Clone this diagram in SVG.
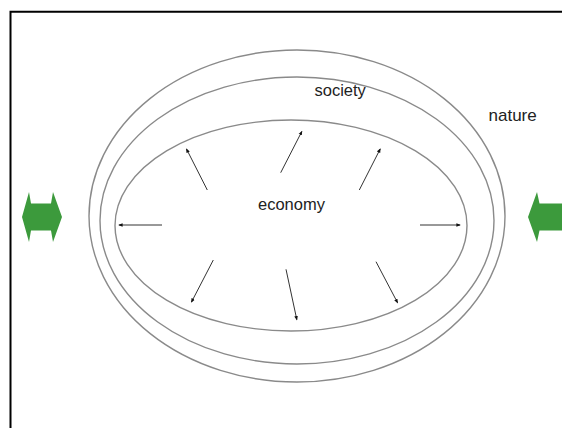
<svg xmlns="http://www.w3.org/2000/svg" width="562" height="428" viewBox="0 0 562 428">
<style>
.ring{fill:none;stroke:#8a8a8a;stroke-width:1.4}
.ar{stroke:#333;stroke-width:1;fill:none;marker-end:url(#ah)}
.lbl{font-family:"Liberation Sans",Arial,sans-serif;font-size:16.5px;fill:#222}
.green{fill:#3c9a3c}
</style>
<defs>
<marker id="ah" viewBox="0 0 10 10" refX="8" refY="5" markerWidth="4.5" markerHeight="4.5" orient="auto" markerUnits="userSpaceOnUse">
<path d="M0,1 L10,5 L0,9 Z" fill="#111"/>
</marker>
</defs>
<rect width="562" height="428" fill="#fff"/>
<path d="M10.5,428 V11.8 H562" fill="none" stroke="#000" stroke-width="2"/>
<g id="nature">
<ellipse class="ring" cx="297" cy="216" rx="208" ry="166"/>
<text class="lbl" x="488.5" y="121" style="font-size:17px">nature</text>
</g>
<g id="society">
<ellipse class="ring" cx="297" cy="220.5" rx="197" ry="143.5"/>
<text class="lbl" x="314.5" y="95.5">society</text>
</g>
<g id="economy">
<ellipse class="ring" cx="291" cy="225.5" rx="176" ry="105.5"/>
<text class="lbl" x="258" y="209.5">economy</text>
</g>
<g id="connectors">
<line class="ar" x1="162" y1="225" x2="119" y2="225"/>
<line class="ar" x1="420" y1="225" x2="460" y2="225"/>
<line class="ar" x1="207.3" y1="190" x2="186.5" y2="149"/>
<line class="ar" x1="280.7" y1="172.7" x2="301.8" y2="131.5"/>
<line class="ar" x1="359.3" y1="190" x2="380.2" y2="149"/>
<line class="ar" x1="213.3" y1="260" x2="191.5" y2="302"/>
<line class="ar" x1="286" y1="269.3" x2="296.8" y2="319.6"/>
<line class="ar" x1="376" y1="261.7" x2="397.5" y2="302.6"/>
</g>
<g id="left-arrow">
<path class="green" d="M22,217 L29,192 L31,203.5 L51,203.5 L53,192 L62,217 L53,242 L51,230.5 L31,230.5 L29,242 Z"/>
</g>
<g id="right-arrow">
<path class="green" d="M528,217 L537,192 L539.5,203.5 L562,203.5 L562,230.5 L539.5,230.5 L537,242 Z"/>
</g>
</svg>
